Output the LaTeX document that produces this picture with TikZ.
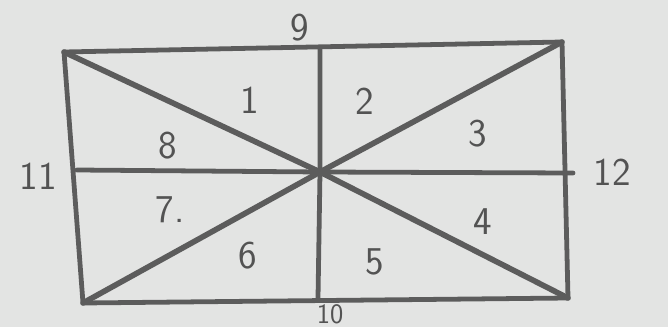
\documentclass[tikz,border=0pt]{standalone}
\usepackage{tikz}
\usetikzlibrary{calc}
\definecolor{paper}{HTML}{E3E4E3}
\definecolor{pencil}{HTML}{5C5C5C}

\begin{document}
\begin{tikzpicture}[x=0.025cm, y=-0.025cm,
  edge/.style={draw=pencil, line width=3.4pt, line cap=round, line join=round},
  diag/.style={edge, line width=4pt},
  num/.style={text=pencil!90!black, font=\sffamily\fontsize{28}{30}\selectfont, inner sep=0pt}]
% paper
\fill[paper] (0,0) rectangle (668,327);
\useasboundingbox (0,0) rectangle (668,327);
% corners, centre and edge midpoints
\coordinate (tl) at (64,52);
\coordinate (tr) at (562,42);
\coordinate (br) at (568,298);
\coordinate (bl) at (83,303);
\coordinate (c) at (320,172);
\coordinate (top) at (320,48);
\coordinate (bot) at (318,298);
\coordinate (lft) at (77,170);
\coordinate (rgt) at (573,173);
% outline
\draw[edge] (tl) -- (tr) -- (br) -- (bl) -- cycle;
% midlines
\draw[edge] (top) -- (c) -- (bot);
\draw[edge] (lft) -- (c) -- (rgt);
% diagonals
\draw[diag] (tl) -- (c) -- (br);
\draw[diag] (tr) -- (c) -- (bl);
% labels
\node[num] (n1) at (250,100) {1};
\node[num] (n2) at (365,101) {2};
\node[num] (n3) at (478,134) {3};
\node[num] (n4) at (483,222) {4};
\node[num] (n5) at (375,262) {5};
\node[num] (n6) at (248,256) {6};
\node[num] (n7) at (170,210) {7.};
\node[num] (n8) at (168,146) {8};
\node[num] (n9) at (300,28) {9};
\node[num, font=\sffamily\fontsize{20}{22}\selectfont, anchor=base] (n10) at (330,323) {10};
\node[num] (n11) at (38,176) {11};
\node[num] (n12) at (612,172) {12};
\end{tikzpicture}
\end{document}
